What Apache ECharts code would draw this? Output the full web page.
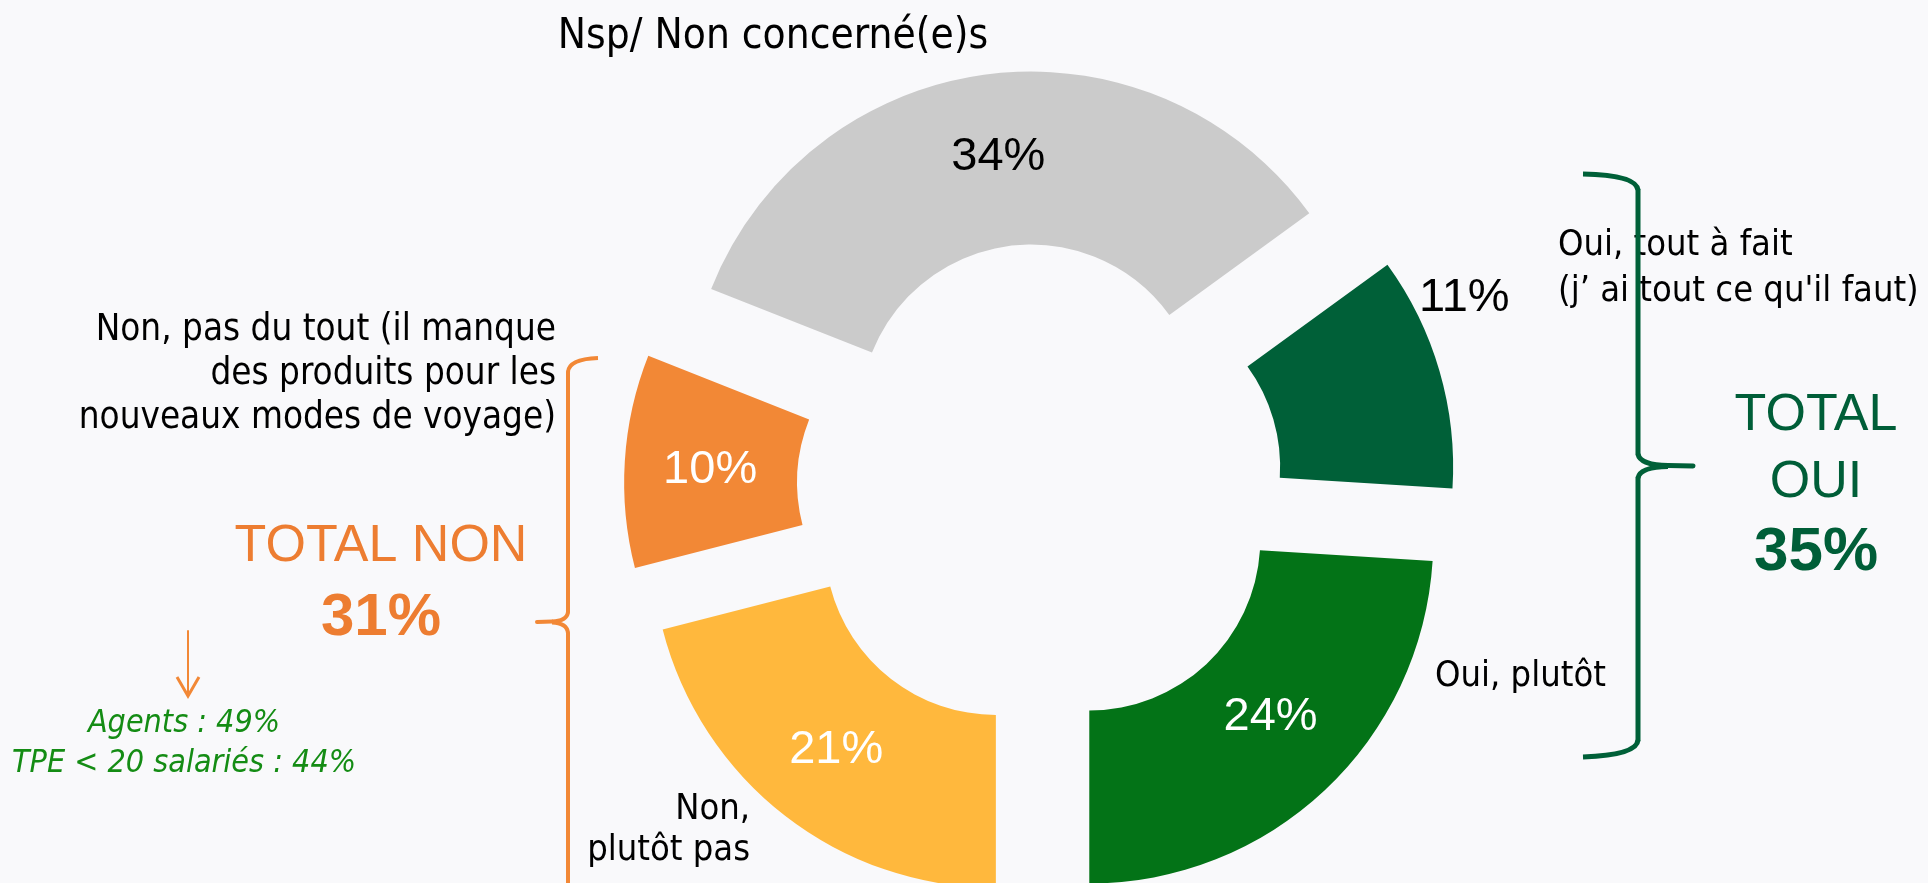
<!DOCTYPE html>
<html>
<head>
<meta charset="utf-8">
<script src="https://cdn.jsdelivr.net/npm/echarts@6/dist/echarts.min.js"></script>
<style>
  html, body { margin: 0; padding: 0; background: #f9f9fb; }
  #main { width: 1928px; height: 883px; }
</style>
</head>
<body>
<div id="main"></div>
<script>
// données du graphique (ordre anti-horaire depuis le bas)
const categories = ['Oui, plutôt', 'Oui, tout à fait', 'Nsp/ Non concerné(e)s', 'Non, pas du tout', 'Non, plutôt pas'];
const values = [24, 11, 34, 10, 21];
const sliceColors = ['#037317', '#006038', '#cbcbcb', '#f28836', '#ffb83d'];
const labelColors = ['#ffffff', '#000000', '#000000', '#ffffff', '#ffffff'];

// libellés des catégories (découpés en lignes)
const nameLines = {
    oui: ['Oui, tout à fait', '(j\u2019 ai tout ce qu\'il faut)'],
    plutot: ['Oui, plutôt'],
    nsp: ['Nsp/ Non concerné(e)s'],
    pasDuTout: ['Non, pas du tout (il manque', 'des produits pour les', 'nouveaux modes de voyage)'],
    plutotPas: ['Non,', 'plutôt pas']
};
const subGroups = ['Agents : 49%', 'TPE < 20 salariés : 44%'];

// totaux
const totalOui = values[0] + values[1];
const totalNon = values[3] + values[4];

const catFont = '"DejaVu Sans Condensed", "DejaVu Sans", sans-serif';
const numFont = '"Liberation Sans", Arial, sans-serif';

var chart = echarts.init(document.getElementById('main'));

// construction des données du camembert
let pieData = values.map(function (v, i) {
    return {
        name: categories[i],
        value: v,
        selected: true,
        itemStyle: { color: sliceColors[i] },
        label: { color: labelColors[i] }
    };
});

function textEl(text, x, y, size, color, align) {
    return {
        type: 'text',
        x: x,
        y: y,
        silent: true,
        style: {
            text: text,
            fill: color,
            font: size + 'px ' + catFont,
            align: align,
            verticalAlign: 'middle'
        }
    };
}

// petits morceaux d'accolade
function seg(x1, y1, x2, y2, color, w) {
    return { type: 'line', silent: true, shape: { x1: x1, y1: y1, x2: x2, y2: y2 },
        style: { stroke: color, lineWidth: w, lineCap: 'round' } };
}
function curve(x1, y1, cx, cy, x2, y2, color, w) {
    return { type: 'bezierCurve', silent: true,
        shape: { x1: x1, y1: y1, cpx1: cx, cpy1: cy, x2: x2, y2: y2 },
        style: { stroke: color, lineWidth: w, fill: null } };
}

let graphics = [];
// libellés à gauche
nameLines.pasDuTout.forEach(function (t, i) {
    graphics.push(textEl(t, 556, 331 + i * 44, 36.5, '#000', 'right'));
});
nameLines.plutotPas.forEach(function (t, i) {
    graphics.push(textEl(t, 750, 810 + i * 41, 36, '#000', 'right'));
});
nameLines.oui.forEach(function (t, i) {
    graphics.push(textEl(t, 1558, 246 + i * 46, 36, '#000', 'left'));
});
graphics.push(textEl(nameLines.plutot[0], 1435, 677, 36, '#000', 'left'));
graphics.push(textEl(nameLines.nsp[0], 773, 37, 42, '#000', 'center'));

// totaux
graphics.push({ type: 'text', x: 381, y: 547, silent: true,
    style: { text: 'TOTAL NON', fill: '#ed7d31', font: '52px ' + numFont, align: 'center', verticalAlign: 'middle' } });
graphics.push({ type: 'text', x: 381, y: 618, silent: true,
    style: { text: totalNon + '%', fill: '#ed7d31', font: 'bold 60px ' + numFont, align: 'center', verticalAlign: 'middle' } });
graphics.push({ type: 'text', x: 1816, y: 416, silent: true,
    style: { text: 'TOTAL', fill: '#005e38', font: '52px ' + numFont, align: 'center', verticalAlign: 'middle' } });
graphics.push({ type: 'text', x: 1816, y: 483, silent: true,
    style: { text: 'OUI', fill: '#005e38', font: '52px ' + numFont, align: 'center', verticalAlign: 'middle' } });
graphics.push({ type: 'text', x: 1816, y: 553, silent: true,
    style: { text: totalOui + '%', fill: '#005e38', font: 'bold 62px ' + numFont, align: 'center', verticalAlign: 'middle' } });

// sous-groupes en italique
subGroups.forEach(function (t, i) {
    graphics.push({ type: 'text', x: 184, y: 724 + i * 40, silent: true,
        style: { text: t, fill: '#148c14', font: 'italic 32px ' + catFont, align: 'center', verticalAlign: 'middle' } });
});

// accolade verte
const g = '#006038';
graphics.push(curve(1583, 174, 1636, 175, 1638, 190, g, 5));
graphics.push(seg(1638, 190, 1638, 454, g, 5));
graphics.push(curve(1638, 454, 1640, 465, 1668, 465.5, g, 5));
graphics.push(seg(1668, 465.5, 1693, 466, g, 5));
graphics.push(curve(1668, 466.5, 1640, 467, 1638, 478, g, 5));
graphics.push(seg(1638, 478, 1638, 740, g, 5));
graphics.push(curve(1638, 740, 1637, 755, 1583, 757, g, 5));

// accolade orange
const o = '#f28836';
graphics.push(curve(598, 358, 569, 359, 568, 372, o, 4));
graphics.push(seg(568, 372, 568, 612, o, 4));
graphics.push(curve(568, 612, 567, 621, 552, 621.5, o, 4));
graphics.push(seg(552, 621.5, 537, 622, o, 4));
graphics.push(curve(552, 622.5, 567, 623, 568, 633, o, 4));
graphics.push(seg(568, 633, 568, 900, o, 4));

// flèche orange
graphics.push(seg(188, 631, 188, 694, o, 2));
graphics.push({ type: 'polyline', silent: true,
    shape: { points: [[177, 677], [188, 696], [199, 677]] },
    style: { fill: null, stroke: o, lineWidth: 3 } });

var option = {
    backgroundColor: '#f9f9fb',
    animation: false,
    graphic: graphics,
    series: [{
        type: 'pie',
        center: [1040, 487],
        radius: [171, 344],
        startAngle: -90,
        clockwise: false,
        selectedMode: 'multiple',
        selectedOffset: 72,
        avoidLabelOverlap: false,
        silent: true,
        label: {
            show: true,
            position: 'inside',
            formatter: '{c}%',
            fontFamily: numFont,
            fontSize: 47
        },
        labelLine: { show: false },
        labelLayout: function (params) {
            // 11% placé hors de la part, petits recalages des autres
            if (params.dataIndex === 1) {
                return { dx: 105, dy: -96 };
            }
            if (params.dataIndex === 0) {
                return { dx: 3, dy: -12 };
            }
            if (params.dataIndex === 3) {
                return { dx: 2, dy: 4 };
            }
            return {};
        },
        emphasis: { disabled: true },
        data: pieData
    }]
};
chart.setOption(option);
</script>
</body>
</html>
